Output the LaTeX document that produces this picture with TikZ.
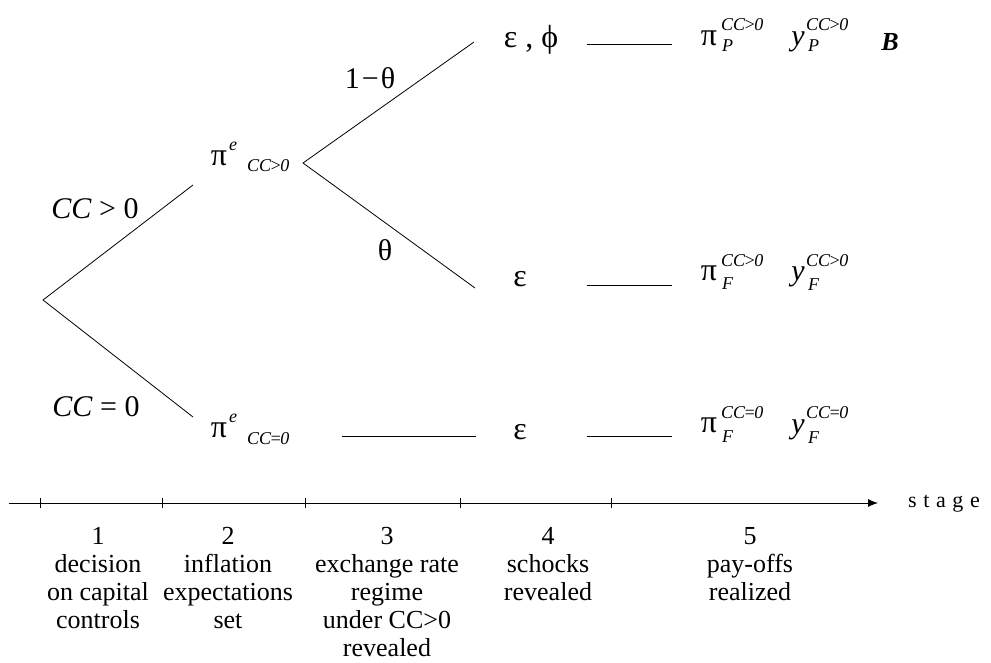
\documentclass[tikz,border=0pt]{standalone}
\usepackage{fontspec}
\setmainfont{Liberation Serif}
\usetikzlibrary{arrows.meta}
\tikzset{
  br/.style={line width=0.8pt},
  gk/.style={inner sep=0pt, font=\fontsize{32}{32}\selectfont},
  yy/.style={inner sep=0pt, font=\fontsize{30}{30}\selectfont\itshape},
  ss/.style={inner sep=0pt, anchor=west, font=\fontsize{18}{18}\selectfont\itshape},
  el/.style={inner sep=0pt, font=\fontsize{30}{30}\selectfont},
  stg/.style={inner sep=0pt, anchor=north, align=center, font=\fontsize{26}{28}\selectfont},
  tk/.style={line width=0.6pt}
}
\newcommand{\ccg}{CC\kern-1.5pt>\kern-1.5pt0}
\newcommand{\cce}{CC\kern-1.5pt=\kern-1.5pt0}
\begin{document}
\begin{tikzpicture}[x=1pt,y=-1pt]
\useasboundingbox (0,0) rectangle (991,662);
% tree points
\coordinate (r) at (43,300);
\coordinate (u1) at (193,185);
\coordinate (d1) at (193,417);
\coordinate (f) at (303,163);
\coordinate (u2) at (474,42);
\coordinate (d2) at (475,288);
\draw[br] (u1) -- (r) -- (d1);
\draw[br] (u2) -- (f) -- (d2);
% edge labels
\node[el] (lcc1) at (95,209) {\textit{CC} > 0};
\node[el] (lcc0) at (96,407) {\textit{CC} = 0};
\node[el] (lth1) at (370,78) {1\kern2pt−\kern2ptθ};
\node[el] (lth) at (385,250) {θ};
% stage 2 nodes
\node[gk] (pe1) at (219,158) {π};
\node[ss] (pe1s) at (229,146) {e};
\node[ss] (pe1c) at (247,166) {\ccg};
\node[gk] (pe0) at (219,430) {π};
\node[ss] (pe0s) at (229,418) {e};
\node[ss] (pe0c) at (247,439) {\cce};
% stage 4 nodes
\node[gk] (ep1) at (531,40) {ε , ϕ};
\node[gk] (ep2) at (520,279) {ε};
\node[gk] (ep3) at (520,432) {ε};
% connector lines
\coordinate (h1a) at (587,44); \coordinate (h1b) at (672,44);
\coordinate (h2a) at (587,285); \coordinate (h2b) at (672,285);
\coordinate (h3a) at (342,436); \coordinate (h3b) at (476,436);
\coordinate (h4a) at (587,436); \coordinate (h4b) at (672,436);
\draw[br] (h1a) -- (h1b);
\draw[br] (h2a) -- (h2b);
\draw[br] (h3a) -- (h3b);
\draw[br] (h4a) -- (h4b);
% payoffs top
\node[gk] (pp) at (709,38) {π};
\node[ss] (pps) at (721,25) {\ccg};
\node[ss] (ppb) at (722,46) {P};
\node[yy] (yp) at (798,42) {y};
\node[ss] (yps) at (806,25) {\ccg};
\node[ss] (ypb) at (808,46) {P};
\node[inner sep=0pt, font=\fontsize{26}{26}\selectfont\bfseries\itshape] (bb) at (890,42) {B};
% payoffs middle
\node[gk] (pf) at (709,273) {π};
\node[ss] (pfs) at (721,261) {\ccg};
\node[ss] (pfb) at (722,284) {F};
\node[yy] (yf) at (798,277) {y};
\node[ss] (yfs) at (806,261) {\ccg};
\node[ss] (yfb) at (808,285) {F};
% payoffs bottom
\node[gk] (pf0) at (709,425) {π};
\node[ss] (pf0s) at (721,413) {\cce};
\node[ss] (pf0b) at (722,437) {F};
\node[yy] (yf0) at (798,430) {y};
\node[ss] (yf0s) at (806,413) {\cce};
\node[ss] (yf0b) at (808,438) {F};
% axis
\coordinate (ax0) at (9,503);
\coordinate (ax1) at (878,503);
\draw[br,-{Latex[length=10pt,width=8pt]}] (ax0) -- (ax1);
\foreach \x in {40,162,305,460,611} \draw[tk] (\x,498) -- (\x,508);
\node[inner sep=0pt, anchor=west, font=\fontsize{22}{22}\selectfont\addfontfeatures{LetterSpace=30}] (stage) at (908,504) {stage};
% stage labels
\node[stg] (s1) at (98,527) {1\\decision\\on capital\\controls};
\node[stg] (s2) at (228,527) {2\\inflation\\expectations\\set};
\node[stg] (s3) at (387,527) {3\\exchange rate\\regime\\under CC>0\\revealed};
\node[stg] (s4) at (548,527) {4\\schocks\\revealed};
\node[stg] (s5) at (750,527) {5\\pay-offs\\realized};
\end{tikzpicture}
\end{document}
